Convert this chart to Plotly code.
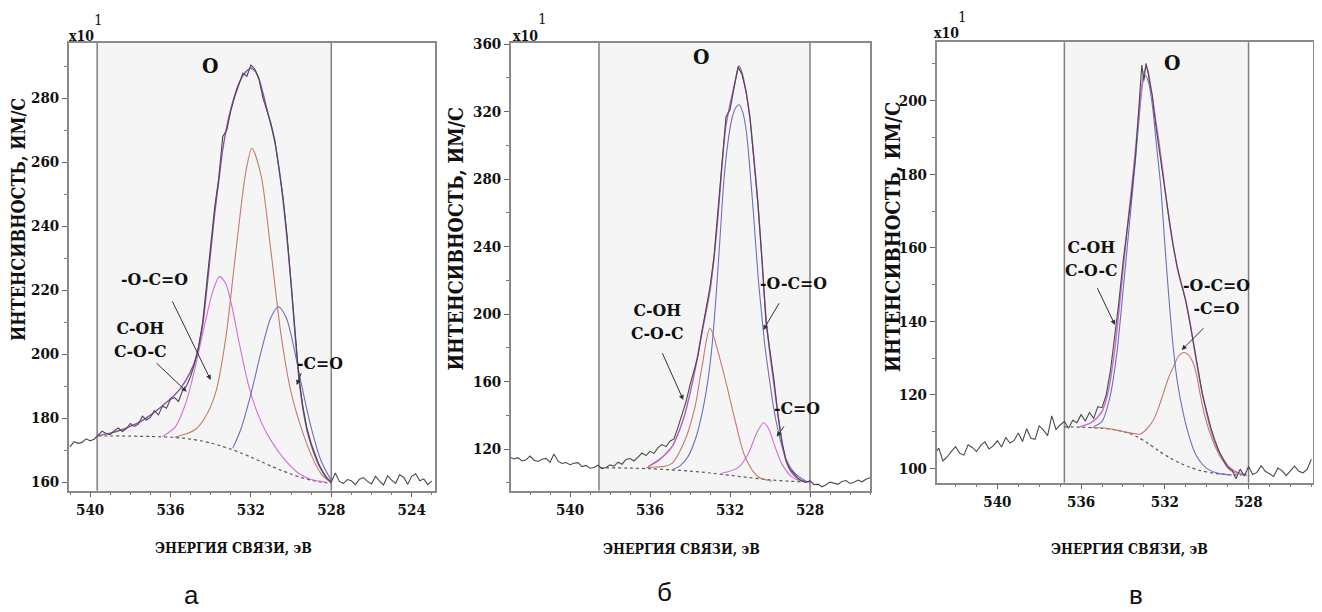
import plotly.graph_objects as go

W, H = 1322, 612
OFF = 8  # page body margin offset

# ---------------- Panel a (O1s) ----------------
a_energy = [541.0, 540.8, 540.6, 540.4, 540.2, 540.0, 539.8, 539.6, 539.4, 539.2,
            539.0, 538.8, 538.6, 538.4, 538.2, 538.0, 537.8, 537.6, 537.4, 537.2,
            537.0, 536.8, 536.6, 536.4, 536.2, 536.0, 535.8, 535.6, 535.4, 535.2,
            535.0, 534.8, 534.6, 534.4, 534.2, 534.0, 533.8, 533.6, 533.4, 533.2,
            533.0, 532.8, 532.6, 532.4, 532.2, 532.0, 531.8, 531.6, 531.4, 531.2,
            531.0, 530.8, 530.6, 530.4, 530.2, 530.0, 529.8, 529.6, 529.4, 529.2,
            529.0, 528.8, 528.6, 528.4, 528.2, 528.0, 527.8, 527.6, 527.4, 527.2,
            527.0, 526.8, 526.6, 526.4, 526.2, 526.0, 525.8, 525.6, 525.4, 525.2,
            525.0, 524.8, 524.6, 524.4, 524.2, 524.0, 523.8, 523.6, 523.4, 523.2,
            523.0]
a_counts = [171.0, 172.6, 172.1, 172.4, 173.5, 172.9, 173.4, 174.6, 175.9, 175.2,
            174.8, 176.0, 176.9, 175.8, 176.6, 178.3, 177.4, 178.1, 180.6, 179.4,
            180.2, 182.3, 181.0, 183.8, 183.1, 185.9, 186.4, 185.2, 188.6, 190.1,
            193.0, 197.0, 202.5, 210.0, 222.0, 233.0, 246.0, 255.0, 268.0, 270.0,
            276.0, 280.5, 284.0, 287.8, 286.8, 290.3, 289.0, 286.0, 280.0, 276.0,
            272.0, 266.5, 258.0, 249.0, 237.0, 222.0, 206.0, 192.0, 183.0, 176.5,
            172.0, 168.3, 165.3, 163.0, 161.2, 160.0, 162.8, 160.2, 159.6, 160.8,
            160.4, 159.2, 160.9, 161.4, 160.2, 159.4, 161.8, 160.3, 159.1, 162.0,
            160.6, 159.6, 162.3, 161.5, 159.3, 161.8, 162.6, 160.4, 161.0, 159.2,
            160.3]
a_env_e = [539.6, 539.0, 538.5, 538.0, 537.5, 537.0, 536.5, 536.0, 535.5, 535.0,
           534.7, 534.4, 534.2, 534.0, 533.8, 533.6, 533.4, 533.2, 533.0, 532.8,
           532.6, 532.4, 532.2, 532.0, 531.8, 531.6, 531.4, 531.2, 531.0, 530.8,
           530.6, 530.4, 530.2, 530.0, 529.8, 529.6, 529.4, 529.2, 529.0, 528.8,
           528.6, 528.4, 528.2, 528.0]
a_env_i = [174.5, 175.3, 176.2, 177.4, 178.9, 180.9, 183.3, 186.0, 189.3, 194.5,
           199.5, 209.0, 220.0, 232.0, 244.0, 254.0, 264.0, 271.0, 276.5, 281.0,
           284.5, 287.0, 288.5, 289.3, 288.5, 286.0, 281.5, 276.5, 271.5, 266.0,
           258.0, 248.0, 236.0, 222.0, 206.0, 192.0, 182.5, 176.0, 171.5, 168.0,
           165.0, 162.8, 161.0, 159.8]
a_bg_e = [539.6, 539.0, 538.5, 538.0, 537.5, 537.0, 536.5, 536.0, 535.5, 535.0,
          534.5, 534.0, 533.5, 533.0, 532.5, 532.0, 531.5, 531.0, 530.5, 530.0,
          529.5, 529.0, 528.5, 528.0]
a_bg_i = [174.4, 174.4, 174.4, 174.35, 174.3, 174.25, 174.15, 174.0, 173.8, 173.4,
          172.9, 172.2, 171.3, 170.3, 169.1, 167.8, 166.4, 165.0, 163.7, 162.5,
          161.4, 160.6, 160.0, 159.6]
# -O-C=O component (magenta)
a_ester_e = [536.4, 535.75, 535.25, 534.9, 534.5, 534.2, 533.9, 533.57, 533.25, 532.9,
             532.6, 532.1, 531.7, 531.3, 530.9, 530.45, 530.0, 529.6, 529.0, 528.3]
a_ester_i = [174.2, 177.3, 184.5, 192.5, 203.5, 212.0, 219.5, 224.2, 222.0, 213.5,
             204.0, 189.8, 182.0, 176.3, 172.0, 168.0, 164.8, 162.6, 160.8, 160.0]
# C-OH / C-O-C component (red)
a_coh_e = [535.8, 535.25, 534.75, 534.25, 533.75, 533.25, 532.75, 532.25, 531.95, 531.5,
           531.0, 530.5, 530.0, 529.5, 529.0, 528.5, 528.0]
a_coh_i = [174.0, 175.0, 176.5, 180.5, 188.0, 205.0, 232.0, 257.0, 264.3, 256.0,
           232.0, 206.0, 188.0, 177.0, 168.5, 162.5, 159.8]
# -C=O component (blue)
a_co_e = [532.9, 532.5, 532.0, 531.5, 531.0, 530.63, 530.25, 530.0, 529.5, 529.0,
          528.5, 528.0]
a_co_i = [170.6, 176.5, 187.5, 200.5, 211.5, 214.8, 211.5, 206.0, 191.0, 177.0,
          166.5, 160.5]
a_shade = [539.65, 528.0]

# ---------------- Panel b ----------------
b_energy = [543.0, 542.8, 542.6, 542.4, 542.2, 542.0, 541.8, 541.6, 541.4, 541.2,
            541.0, 540.8, 540.6, 540.4, 540.2, 540.0, 539.8, 539.6, 539.4, 539.2,
            539.0, 538.8, 538.6, 538.4, 538.2, 538.0, 537.8, 537.6, 537.4, 537.2,
            537.0, 536.8, 536.6, 536.4, 536.2, 536.0, 535.8, 535.6, 535.4, 535.2,
            535.0, 534.8, 534.6, 534.4, 534.2, 534.0, 533.8, 533.6, 533.4, 533.2,
            533.0, 532.8, 532.6, 532.4, 532.2, 532.0, 531.8, 531.6, 531.4, 531.2,
            531.0, 530.8, 530.6, 530.4, 530.2, 530.0, 529.8, 529.6, 529.4, 529.2,
            529.0, 528.8, 528.6, 528.4, 528.2, 528.0, 527.8, 527.6, 527.4, 527.2,
            527.0, 526.8, 526.6, 526.4, 526.2, 526.0, 525.8, 525.6, 525.4, 525.2,
            525.0]
b_counts = [115.2, 114.1, 114.9, 112.9, 113.6, 115.8, 113.4, 112.6, 113.9, 114.4,
            112.1, 117.0, 112.8, 111.4, 112.0, 110.7, 111.6, 111.9, 109.6, 110.3,
            108.6, 109.0, 110.4, 108.4, 109.1, 110.6, 109.9, 112.2, 111.0, 113.8,
            114.4, 112.9, 115.2, 117.6, 116.1, 118.6, 117.4, 120.8, 122.6, 121.4,
            124.6, 126.0, 133.0, 140.0, 148.0, 158.0, 166.0, 175.0, 190.0, 203.0,
            216.0, 234.0, 262.0, 290.0, 317.0, 321.0, 333.0, 346.5, 342.0, 332.0,
            316.0, 292.0, 265.0, 232.0, 195.0, 178.0, 161.0, 140.0, 124.0, 113.5,
            108.0, 105.6, 102.5, 101.0, 100.2, 101.2, 98.9, 99.2, 97.6, 98.8,
            100.4, 99.8, 99.1, 100.8, 101.3, 99.6, 100.3, 101.6, 100.6, 102.1,
            103.0]
b_env_e = [536.1, 535.5, 534.9, 534.5, 534.25, 534.0, 533.75, 533.5, 533.25, 533.0,
           532.8, 532.6, 532.4, 532.2, 532.0, 531.8, 531.65, 531.55, 531.4, 531.2,
           531.0, 530.8, 530.6, 530.4, 530.2, 530.0, 529.8, 529.6, 529.4, 529.2,
           529.0, 528.8, 528.6, 528.3, 528.0]
b_env_i = [109.5, 114.0, 121.4, 132.0, 141.0, 153.0, 166.8, 183.0, 198.0, 214.0,
           233.0, 258.0, 288.0, 312.0, 324.0, 335.0, 343.0, 347.0, 343.0, 332.0,
           316.0, 292.0, 265.0, 232.0, 198.0, 176.0, 158.0, 140.0, 124.0, 113.0,
           107.5, 104.5, 102.5, 101.0, 100.5]
b_bg_e = [538.5, 537.0, 536.0, 535.0, 534.0, 533.0, 532.0, 531.0, 530.0, 529.0, 528.0]
b_bg_i = [108.9, 108.7, 108.3, 107.7, 106.9, 105.8, 104.4, 103.0, 101.7, 100.9, 100.5]
# -O-C=O component (blue, main)
b_ester_e = [534.9, 534.5, 534.1, 533.7, 533.4, 533.1, 532.9, 532.7, 532.5, 532.3,
             532.1, 531.9, 531.7, 531.53, 531.35, 531.17, 531.0, 530.83, 530.58, 530.4,
             530.25, 530.0, 529.8, 529.6, 529.4, 529.2, 528.9, 528.6, 528.2]
b_ester_i = [107.7, 110.0, 115.5, 127.0, 141.0, 161.0, 181.0, 210.0, 245.0, 280.0,
             302.0, 316.0, 322.5, 324.0, 319.0, 307.0, 285.0, 260.0, 220.0, 198.0,
             180.6, 159.0, 143.0, 131.0, 121.4, 114.0, 107.6, 104.0, 101.0]
# C-OH / C-O-C component (red)
b_coh_e = [536.2, 535.7, 535.25, 534.9, 534.25, 533.75, 533.4, 533.0, 532.4, 531.75,
           531.25, 530.6, 529.9]
b_coh_i = [108.9, 109.3, 109.8, 111.5, 125.3, 145.0, 168.8, 191.5, 168.8, 137.2,
           115.4, 103.6, 100.9]
# -C=O component (magenta)
b_co_e = [532.4, 531.58, 531.08, 530.67, 530.33, 530.08, 529.75, 529.42, 528.92, 528.42]
b_co_i = [105.6, 109.1, 117.4, 129.3, 135.6, 132.3, 121.4, 111.5, 103.6, 100.6]
b_shade = [538.55, 528.0]

# ---------------- Panel c ----------------
c_energy = [543.0, 542.8, 542.6, 542.4, 542.2, 542.0, 541.8, 541.6, 541.4, 541.2,
            541.0, 540.8, 540.6, 540.4, 540.2, 540.0, 539.8, 539.6, 539.4, 539.2,
            539.0, 538.8, 538.6, 538.4, 538.2, 538.0, 537.8, 537.6, 537.4, 537.2,
            537.0, 536.8, 536.6, 536.4, 536.2, 536.0, 535.8, 535.6, 535.4, 535.2,
            535.0, 534.8, 534.6, 534.4, 534.2, 534.0, 533.8, 533.6, 533.4, 533.2,
            533.1, 533.0, 532.9, 532.8, 532.6, 532.4, 532.2, 532.0, 531.8, 531.6,
            531.4, 531.2, 531.0, 530.8, 530.6, 530.4, 530.2, 530.0, 529.8, 529.6,
            529.4, 529.2, 529.0, 528.8, 528.6, 528.4, 528.2, 528.0, 527.8, 527.6,
            527.4, 527.2, 527.0, 526.8, 526.6, 526.4, 526.2, 526.0, 525.8, 525.6,
            525.4, 525.2, 525.0]
c_counts = [104.0, 105.5, 102.0, 103.1, 104.6, 105.9, 104.1, 103.6, 106.4, 105.7,
            104.6, 106.2, 107.2, 105.3, 106.1, 107.5, 105.8, 108.4, 106.9, 107.6,
            109.6, 107.3, 110.8, 108.2, 107.9, 111.6, 110.4, 108.9, 114.3, 110.6,
            111.8, 112.8, 110.9, 113.1, 112.4, 114.6, 112.9, 115.2, 113.6, 116.8,
            116.5, 120.0, 126.5, 135.0, 145.0, 156.0, 164.5, 174.0, 185.0, 201.0,
            209.7, 205.5, 210.2, 207.5, 201.5, 192.0, 184.5, 176.0, 168.0, 160.5,
            154.5, 150.0, 145.5, 139.5, 132.5, 126.5, 120.0, 115.5, 111.0, 107.5,
            104.5, 102.3, 100.3, 99.6, 97.2, 99.8, 97.9, 100.5, 98.3, 98.9,
            100.7, 99.2, 98.4, 97.8, 100.1, 99.4, 98.0, 99.3, 100.6, 99.2,
            98.8, 99.7, 102.5]
c_env_e = [536.05, 535.5, 535.0, 534.7, 534.4, 534.1, 533.8, 533.5, 533.3, 533.1,
           532.95, 532.85, 532.7, 532.5, 532.3, 532.1, 531.9, 531.7, 531.5, 531.3,
           531.1, 530.9, 530.7, 530.5, 530.3, 530.1, 529.9, 529.7, 529.5, 529.2,
           528.9, 528.5, 528.1]
c_env_i = [111.3, 112.5, 115.5, 121.0, 132.0, 148.0, 165.0, 181.0, 193.0, 204.0,
           208.5, 209.0, 204.5, 197.0, 189.5, 181.0, 172.0, 164.0, 157.5, 152.0,
           148.0, 143.0, 136.5, 129.5, 123.0, 117.5, 112.5, 108.5, 105.5, 102.5,
           100.2, 98.8, 98.2]
c_bg_e = [536.8, 536.0, 535.0, 534.3, 533.8, 533.3, 532.8, 532.3, 531.8, 531.3,
          530.8, 530.3, 529.7, 529.0, 528.1]
c_bg_i = [111.3, 111.2, 110.9, 110.4, 109.7, 108.5, 106.8, 104.8, 103.0, 101.5,
          100.3, 99.4, 98.7, 98.3, 98.2]
# C-OH / C-O-C component (blue)
c_coh_e = [535.4, 535.0, 534.6, 534.3, 534.0, 533.7, 533.4, 533.2, 533.05, 532.94,
           532.8, 532.6, 532.4, 532.2, 532.0, 531.8, 531.6, 531.4, 531.1, 530.8,
           530.5, 530.0, 529.5, 528.8]
c_coh_i = [111.4, 112.8, 120.0, 131.0, 148.0, 166.0, 184.0, 197.0, 205.0, 206.8,
           205.5, 199.0, 188.0, 177.0, 161.0, 146.0, 133.0, 123.5, 114.5, 108.0,
           103.5, 100.0, 98.7, 98.2]
# -O-C=O / -C=O component (red)
c_co_e = [535.5, 534.8, 534.3, 533.8, 533.4, 533.18, 532.9, 532.55, 532.3, 532.07,
          531.8, 531.59, 531.35, 531.11, 530.9, 530.64, 530.45, 530.32, 530.1, 529.84,
          529.6, 529.36, 529.1, 528.88, 528.5, 528.1]
c_co_i = [111.1, 110.9, 110.4, 109.8, 109.4, 109.3, 110.5, 113.1, 116.5, 120.4,
          125.0, 127.6, 130.5, 131.5, 131.0, 128.6, 124.5, 120.4, 114.5, 109.5,
          106.0, 103.2, 101.0, 99.5, 98.6, 98.2]
c_shade = [536.8, 528.0]

# ---------------- Styles ----------------
SPEC = "#4a4a4a"
BG = "#5a5a5a"
BLUE = "#6e6ebd"
RED = "#c57a70"
MAG = "#d36fd8"
ENV_A = "#8f4fb0"
ENV_B = "#b557c0"
ENV_C = "#cc6fd0"
SERIF = "DejaVu Serif Condensed, DejaVu Serif, Liberation Serif, serif"
SANS = "Liberation Sans, DejaVu Sans, sans-serif"

fig = go.Figure()


def line(x, y, color, width, axis, dash="solid", smooth=True):
    fig.add_trace(go.Scatter(
        x=x, y=y, mode="lines", xaxis="x" + axis, yaxis="y" + axis,
        line=dict(color=color, width=width, dash=dash,
                  shape="spline" if smooth else "linear", smoothing=0.8),
        hoverinfo="skip", showlegend=False))


# panel a
line(a_bg_e, a_bg_i, BG, 1.2, "", dash="dot")
line(a_ester_e, a_ester_i, MAG, 1.1, "")
line(a_coh_e, a_coh_i, RED, 1.1, "")
line(a_co_e, a_co_i, BLUE, 1.1, "")
line(a_env_e, a_env_i, ENV_A, 1.4, "")
line(a_energy, a_counts, SPEC, 1.1, "", smooth=False)
# panel b
line(b_bg_e, b_bg_i, BG, 1.2, "2", dash="dot")
line(b_coh_e, b_coh_i, RED, 1.1, "2")
line(b_co_e, b_co_i, MAG, 1.1, "2")
line(b_ester_e, b_ester_i, BLUE, 1.1, "2")
line(b_env_e, b_env_i, ENV_B, 1.4, "2")
line(b_energy, b_counts, SPEC, 1.1, "2", smooth=False)
# panel c
line(c_bg_e, c_bg_i, BG, 1.2, "3", dash="dot")
line(c_co_e, c_co_i, RED, 1.1, "3")
line(c_coh_e, c_coh_i, BLUE, 1.1, "3")
line(c_env_e, c_env_i, ENV_C, 1.5, "3")
line(c_energy, c_counts, SPEC, 1.1, "3", smooth=False)

tickfont = dict(family=SERIF, size=15, color="#111", weight="bold")


def xax(dom, rng, anchor):
    return dict(domain=dom, range=rng, anchor=anchor, tickvals=[540, 536, 532, 528, 524],
                automargin=False,
                showline=True, linecolor="#8a8a8a", linewidth=1.5, mirror=True,
                ticks="outside", ticklen=5, tickcolor="#666", tickwidth=1,
                minor=dict(ticks="outside", ticklen=3, dtick=1, tickcolor="#777"),
                showgrid=False, zeroline=False, tickfont=tickfont)


def yax(dom, rng, anchor, dtick, mdt):
    return dict(domain=dom, range=rng, anchor=anchor, dtick=dtick, tick0=0,
                automargin=False,
                showline=True, linecolor="#8a8a8a", linewidth=1.5, mirror=True,
                ticks="outside", ticklen=5, tickcolor="#666", tickwidth=1,
                minor=dict(ticks="outside", ticklen=3, dtick=mdt, tickcolor="#777"),
                showgrid=False, zeroline=False, tickfont=tickfont)


def dx(a, b):
    return [(a - OFF) / W, (b - OFF) / W]


def dy(top, bottom):
    return [1 - (bottom - OFF) / H, 1 - (top - OFF) / H]


fig.update_layout(
    template="none",
    xaxis=xax(dx(69, 435), [541.05, 522.84], "y"),
    yaxis=yax(dy(43, 490.7), [157.3, 297.2], "x", 20, 10),
    xaxis2=xax(dx(511, 870), [542.95, 525.0], "y2"),
    yaxis2=yax(dy(43, 490.7), [95.3, 360.6], "x2", 40, 20),
    xaxis3=xax(dx(936.7, 1313), [542.9, 524.92], "y3"),
    yaxis3=yax(dy(42.3, 482.7), [96.1, 215.9], "x3", 20, 10),
)

shapes = []
for ax, sh in (("", a_shade), ("2", b_shade), ("3", c_shade)):
    shapes.append(dict(type="rect", xref="x" + ax, yref="y" + ax + " domain",
                       x0=sh[0], x1=sh[1], y0=0, y1=1, fillcolor="#f5f5f5",
                       line=dict(width=0), layer="below"))
    for xv in sh:
        shapes.append(dict(type="line", xref="x" + ax, yref="y" + ax + " domain",
                           x0=xv, x1=xv, y0=0, y1=1,
                           line=dict(color="#808080", width=1.5), layer="below"))


def P(x, y):
    return (x - OFF) / W, 1 - (y - OFF) / H


ann = []


def text(x, y, s, size=17.5, bold=True, fam=SERIF, angle=0):
    px, py = P(x, y)
    ann.append(dict(x=px, y=py, xref="paper", yref="paper", text=s, showarrow=False,
                    xanchor="center", yanchor="middle", textangle=angle,
                    font=dict(family=fam, size=size, color="#111",
                              weight="bold" if bold else "normal")))


def arrow(tx, ty, hx, hy):
    px, py = P(hx, hy)
    ann.append(dict(x=px, y=py, xref="paper", yref="paper", text="", showarrow=True,
                    ax=tx - hx, ay=ty - hy, arrowhead=2, arrowsize=1.0, arrowwidth=1,
                    arrowcolor="#333"))


# panel a labels
text(210, 65, "O", 21)
text(154, 279, "-O-C=O")
text(140, 339, "C-OH<br>C-O-C")
text(320, 363, "-C=O")
arrow(171.7, 300, 210.7, 380)
arrow(155, 361.7, 186.7, 391.7)
arrow(301.7, 371.7, 296.7, 385)
# panel b labels
text(701, 57, "O", 21)
text(657.5, 321.7, "C-OH<br>C-O-C")
text(793.3, 283.3, "-O-C=O")
text(796.7, 408.3, "-C=O")
arrow(661.7, 351.7, 683.3, 400)
arrow(780, 301.7, 763.3, 330)
arrow(785, 425, 776.7, 436.7)
# panel c labels
text(1172, 62, "O", 21)
text(1091.7, 258.3, "C-OH<br>C-O-C")
text(1216, 296, "-O-C=O<br>-C=O")
arrow(1096.7, 286.7, 1115, 325)
arrow(1205, 326.7, 1181.7, 350)

# exponent marks
for (x10x, x10y, onex, oney) in ((81, 36, 98, 20), (525.5, 36, 542.5, 19), (947, 33, 962.5, 17)):
    text(x10x, x10y, "x10", 14)
    text(onex, oney, "1", 15, bold=False)

# axis titles
ytitle = "ИНТЕНСИВНОСТЬ, ИМ/С"
text(18, 220, ytitle, 18, angle=-90)
text(455.5, 238, ytitle, 19.5, angle=-90)
text(893, 237, ytitle, 20, angle=-90)
xtitle = "ЭНЕРГИЯ СВЯЗИ, эВ"
text(233, 548, xtitle, 14)
text(681, 548.5, xtitle, 14)
text(1129, 548.5, xtitle, 14)

# panel captions
text(191, 595, "а", 26, bold=False, fam=SANS)
text(664.5, 592, "б", 26, bold=False, fam=SANS)
text(1135.5, 595, "в", 26, bold=False, fam=SANS)

fig.update_layout(width=W, height=H, autosize=False,
                  margin=dict(l=0, r=0, t=0, b=0),
                  paper_bgcolor="white", plot_bgcolor="white",
                  shapes=shapes, annotations=ann, showlegend=False)

fig.write_html("out.html")
